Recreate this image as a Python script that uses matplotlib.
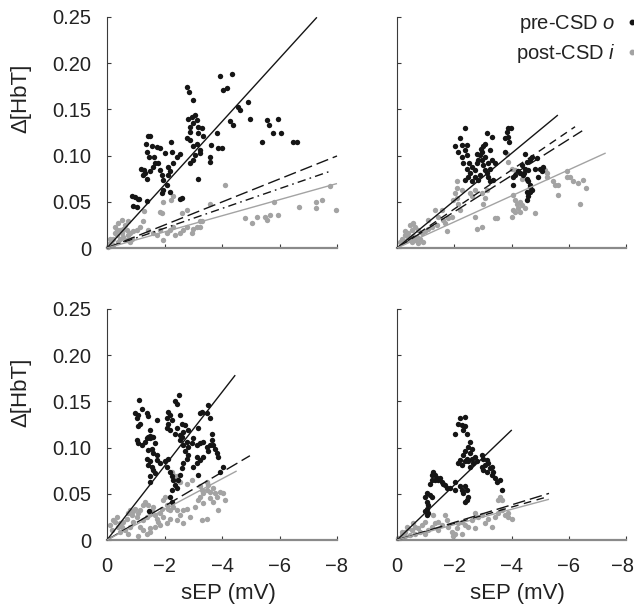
import matplotlib
matplotlib.use("Agg")
import matplotlib.pyplot as plt
from matplotlib.lines import Line2D
from matplotlib.transforms import ScaledTranslation

plt.rcParams['font.family'] = ['Liberation Sans', 'DejaVu Sans']
plt.rcParams['mathtext.fontset'] = 'custom'
plt.rcParams['mathtext.it'] = 'Liberation Sans:italic'
plt.rcParams['mathtext.rm'] = 'Liberation Sans'

# ---------------- data (sEP in mV, Δ[HbT]) ----------------
# top-left panel
tl_pre_x = [-0.86,-0.97,-0.89,-1.03,-1.12,-1.38,-1.09,-1.41,-1.50,-1.36,-1.55,-1.40,-1.47,-1.18,-1.29,-1.24,-1.33,-1.38,
            -1.50,-1.61,-1.67,-1.79,-1.84,-1.90,-1.96,-2.13,-2.19,-2.21,-2.25,-2.02,-1.84,-1.73,-1.63,-1.90,-1.96,-2.08,
            -2.13,-2.19,-2.31,-2.42,-2.54,-2.60,-2.54,-2.79,-2.86,-2.98,-2.94,-2.89,-2.83,-2.89,-3.06,-3.12,-3.00,-3.18,
            -2.77,-2.89,-3.00,-3.18,-3.12,-3.23,-3.29,-3.06,-2.89,-3.00,-3.18,-3.23,-3.35,-3.58,-3.58,-3.61,-3.81,-3.87,
            -3.93,-4.02,-4.16,-4.34,-4.28,-4.39,-4.57,-4.63,-4.92,-4.97,-5.38,-5.55,-5.65,-5.79,-5.96,-6.04,-6.48,-6.60,-3.99]
tl_pre_y = [0.056,0.055,0.045,0.044,0.053,0.051,0.053,0.121,0.121,0.113,0.110,0.104,0.099,0.085,0.084,0.079,0.081,0.075,
            0.083,0.088,0.092,0.092,0.084,0.079,0.074,0.088,0.083,0.115,0.104,0.103,0.108,0.109,0.099,0.059,0.063,0.068,
            0.079,0.061,0.092,0.099,0.102,0.054,0.053,0.174,0.169,0.160,0.142,0.131,0.140,0.126,0.144,0.139,0.135,0.131,
            0.119,0.117,0.110,0.124,0.113,0.106,0.130,0.101,0.092,0.095,0.075,0.103,0.121,0.099,0.093,0.112,0.124,0.108,
            0.186,0.171,0.173,0.188,0.137,0.133,0.153,0.149,0.158,0.140,0.115,0.138,0.133,0.124,0.140,0.125,0.115,0.115,0.108]
tl_post_x = [-0.05,-0.10,-0.16,-0.22,-0.28,-0.34,-0.28,-0.39,-0.45,-0.51,-0.57,-0.63,-0.68,-0.74,-0.80,-0.86,-0.92,-1.03,
             -1.15,-1.26,-0.22,-0.39,-0.45,-0.57,-0.68,-0.80,-0.10,-0.34,-0.51,-0.74,-1.29,-1.44,-1.61,-1.73,-1.84,-1.96,
             -2.08,-2.19,-2.31,-2.37,-2.54,-2.66,-2.77,-2.94,-3.00,-3.12,-3.23,-1.84,-1.90,-1.96,-2.21,-2.31,-2.60,-2.77,
             -3.23,-3.29,-3.58,-4.10,-4.80,-5.06,-5.21,-5.50,-5.55,-5.67,-5.96,-5.82,-6.68,-7.27,-7.27,-7.47,-7.76,-7.95]
tl_post_y = [0.001,0.005,0.009,0.010,0.016,0.019,0.023,0.027,0.019,0.016,0.021,0.025,0.019,0.014,0.016,0.010,0.018,0.019,
             0.023,0.029,0.003,0.007,0.010,0.012,0.009,0.007,0.010,0.014,0.030,0.029,0.040,0.019,0.016,0.014,0.019,0.009,
             0.016,0.019,0.023,0.014,0.016,0.019,0.023,0.016,0.021,0.023,0.029,0.039,0.038,0.050,0.052,0.056,0.038,0.041,
             0.023,0.029,0.048,0.068,0.032,0.027,0.034,0.034,0.030,0.036,0.036,0.050,0.044,0.050,0.043,0.052,0.067,0.041]

# top-right panel
tr_pre_x = [-2.37,-2.20,-2.26,-2.03,-2.14,-2.37,-2.43,-2.26,-2.43,-2.32,-2.43,-2.55,-2.37,-2.49,-2.61,-2.72,-2.78,-2.84,
            -2.90,-2.96,-3.02,-3.07,-3.13,-3.31,-2.96,-3.02,-3.07,-3.13,-3.19,-2.90,-2.84,-2.72,-3.07,-3.19,-3.25,-3.31,
            -2.78,-2.93,-2.63,-2.51,-3.25,-3.42,-3.36,-3.25,-3.77,-3.89,-3.98,-3.83,-3.89,-3.77,-3.91,-4.47,-4.53,-4.64,
            -4.70,-4.88,-4.35,-4.47,-4.59,-4.30,-4.41,-4.12,-4.24,-4.06,-4.53,-4.59,-4.64,-4.06,-4.82,-4.99,-5.11,-5.05,
            -4.91,-4.53,-4.64,-4.70,-4.59,-4.53,-4.64,-4.45]
tr_pre_y = [0.130,0.119,0.111,0.110,0.104,0.106,0.111,0.099,0.101,0.092,0.086,0.081,0.074,0.077,0.072,0.084,0.092,0.095,
            0.101,0.104,0.110,0.113,0.124,0.120,0.095,0.090,0.084,0.081,0.077,0.079,0.074,0.077,0.099,0.092,0.086,0.095,
            0.102,0.107,0.088,0.092,0.106,0.092,0.074,0.072,0.104,0.130,0.130,0.126,0.120,0.119,0.115,0.102,0.093,0.095,
            0.099,0.097,0.090,0.086,0.084,0.081,0.079,0.079,0.083,0.077,0.075,0.072,0.068,0.068,0.086,0.086,0.088,0.083,
            0.077,0.061,0.061,0.063,0.056,0.052,0.066,0.081]
tr_post_x = [-2.08,-2.03,-2.08,-1.97,-2.14,-2.20,-1.56,-1.33,-1.44,-1.62,-1.79,-1.68,-1.39,-1.21,-1.09,-0.98,-0.86,-0.75,
             -0.63,-0.51,-0.40,-0.28,-0.16,-0.10,-0.22,-0.34,-0.45,-0.57,-0.69,-0.80,-0.92,-0.75,-0.63,-0.51,-0.40,-0.28,
             -0.45,-0.57,-1.09,-1.73,-1.91,-2.72,-2.78,-2.98,-3.42,-2.96,-3.02,-3.07,-3.13,-2.72,-2.61,-2.55,-2.08,-2.26,
             -3.83,-3.89,-4.00,-4.12,-4.35,-4.53,-4.06,-4.12,-4.18,-4.30,-4.35,-4.24,-4.47,-4.06,-4.30,-4.12,-4.00,-4.82,
             -5.17,-5.23,-5.46,-5.52,-5.63,-5.63,-5.93,-5.93,-6.04,-6.16,-6.33,-6.51,-6.62,-6.39,-3.48,-5.23]
tr_post_y = [0.065,0.059,0.054,0.052,0.048,0.041,0.041,0.041,0.034,0.030,0.032,0.027,0.025,0.023,0.021,0.018,0.016,0.019,
             0.023,0.019,0.016,0.014,0.010,0.007,0.007,0.009,0.010,0.013,0.012,0.010,0.007,0.005,0.009,0.007,0.012,0.018,
             0.025,0.027,0.030,0.018,0.034,0.034,0.021,0.023,0.032,0.059,0.048,0.054,0.063,0.063,0.056,0.059,0.072,0.063,
             0.102,0.093,0.086,0.084,0.075,0.074,0.057,0.052,0.048,0.050,0.047,0.043,0.043,0.041,0.039,0.039,0.034,0.038,
             0.084,0.077,0.072,0.068,0.068,0.057,0.083,0.077,0.077,0.072,0.070,0.074,0.065,0.048,0.032,0.081]

# bottom-left panel
bl_pre_x = [-1.12,-1.21,-0.97,-1.03,-1.09,-1.38,-1.44,-1.15,-1.09,-1.50,-1.73,-2.13,-2.19,-2.08,-2.25,-2.13,-2.08,-2.19,
            -2.37,-2.42,-2.52,-2.54,-2.60,-2.71,-2.42,-2.37,-2.54,-2.66,-2.83,-3.23,-3.29,-3.52,-3.47,-3.58,-3.64,-3.18,
            -1.44,-1.38,-1.50,-1.55,-1.03,-1.09,-1.21,-1.32,-1.50,-1.61,-1.67,-1.55,-1.44,-1.61,-1.73,-1.38,-1.50,-1.44,
            -1.55,-1.61,-1.67,-1.50,-1.50,-1.73,-1.84,-2.02,-2.13,-2.08,-2.19,-2.25,-2.31,-2.37,-2.42,-2.25,-2.54,-2.60,
            -2.66,-2.77,-2.83,-2.94,-3.00,-2.71,-2.83,-2.77,-2.66,-2.60,-2.54,-2.48,-3.12,-3.23,-3.35,-3.47,-3.58,-3.64,
            -3.70,-3.76,-3.81,-3.87,-3.52,-3.35,-3.23,-3.12,-3.00,-4.05,-3.93,-3.18,-3.12,-1.47,-2.25,-2.19]
bl_pre_y = [0.152,0.142,0.137,0.132,0.135,0.137,0.134,0.126,0.123,0.119,0.130,0.139,0.135,0.132,0.130,0.126,0.121,0.119,
            0.150,0.147,0.157,0.135,0.126,0.124,0.121,0.115,0.114,0.117,0.119,0.137,0.139,0.146,0.137,0.132,0.115,0.121,
            0.112,0.110,0.113,0.111,0.108,0.105,0.103,0.106,0.110,0.112,0.105,0.099,0.097,0.094,0.092,0.088,0.085,0.081,
            0.079,0.076,0.072,0.069,0.063,0.087,0.083,0.085,0.088,0.079,0.074,0.069,0.065,0.060,0.056,0.054,0.108,0.112,
            0.103,0.106,0.101,0.105,0.110,0.096,0.092,0.088,0.083,0.078,0.070,0.065,0.103,0.105,0.106,0.101,0.103,0.108,
            0.103,0.099,0.094,0.090,0.096,0.090,0.087,0.083,0.079,0.079,0.074,0.070,0.090,0.031,0.041,0.047]
bl_post_x = [-0.10,-0.22,-0.28,-0.16,-0.34,-0.39,-0.45,-0.57,-0.68,-0.74,-0.80,-0.86,-0.92,-0.97,-1.03,-1.09,-1.15,-0.92,
             -0.80,-0.63,-0.45,-0.51,-0.74,-1.15,-1.26,-1.38,-1.50,-1.26,-1.32,-1.44,-1.55,-1.61,-1.67,-1.73,-1.79,-1.84,
             -1.90,-1.96,-2.02,-2.08,-2.13,-1.96,-1.84,-1.67,-1.50,-1.38,-1.09,-2.19,-2.31,-2.42,-2.54,-2.66,-2.77,-2.89,
             -2.66,-2.42,-2.19,-2.08,-2.25,-2.31,-2.42,-2.37,-2.54,-2.77,-2.94,-3.47,-3.23,-3.29,-3.35,-3.47,-3.52,-3.58,
             -3.70,-3.76,-3.81,-3.93,-4.05,-4.10,-3.23,-3.35,-3.18,-3.06,-3.58,-3.70,-3.29,-3.47,-3.87,-1.50,-1.26]
bl_post_y = [0.016,0.022,0.020,0.011,0.025,0.014,0.018,0.020,0.023,0.029,0.032,0.027,0.031,0.034,0.025,0.029,0.032,0.020,
             0.014,0.011,0.009,0.014,0.007,0.014,0.022,0.025,0.029,0.038,0.041,0.038,0.032,0.036,0.027,0.023,0.020,0.029,
             0.034,0.043,0.047,0.038,0.034,0.025,0.016,0.014,0.013,0.007,0.004,0.032,0.036,0.032,0.027,0.032,0.034,0.025,
             0.018,0.022,0.023,0.018,0.074,0.070,0.069,0.065,0.063,0.061,0.065,0.063,0.058,0.054,0.051,0.054,0.060,0.052,
             0.056,0.051,0.047,0.052,0.051,0.043,0.047,0.040,0.043,0.036,0.045,0.041,0.022,0.023,0.032,0.009,0.011]

# bottom-right panel
br_pre_x = [-2.20,-2.37,-2.14,-2.26,-2.37,-2.32,-2.03,-2.43,-2.55,-2.49,-2.61,-2.55,-2.37,-2.32,-2.43,-2.20,-2.14,-2.26,
            -2.37,-2.49,-2.61,-2.72,-2.67,-2.55,-2.78,-2.96,-3.02,-3.13,-3.19,-3.07,-2.96,-3.02,-3.13,-3.25,-3.31,-3.36,
            -3.31,-3.42,-3.48,-3.60,-3.66,-1.27,-1.21,-1.33,-1.39,-1.44,-1.50,-1.56,-1.62,-1.68,-1.73,-1.85,-1.33,-1.21,
            -1.15,-1.04,-0.98,-1.15,-1.21,-1.04,-1.09,-1.04,-0.98,-1.09,-1.04,-2.37,-2.43,-2.49,-2.43,-2.37,-2.32,-2.26,
            -2.20,-2.03,-2.03]
br_pre_y = [0.132,0.133,0.126,0.124,0.123,0.119,0.115,0.115,0.106,0.101,0.099,0.094,0.096,0.092,0.088,0.087,0.083,0.081,
            0.085,0.085,0.088,0.090,0.083,0.079,0.085,0.092,0.088,0.087,0.083,0.081,0.079,0.076,0.074,0.078,0.079,0.074,
            0.070,0.067,0.063,0.065,0.054,0.074,0.070,0.070,0.067,0.065,0.067,0.063,0.061,0.060,0.056,0.056,0.065,0.065,
            0.061,0.051,0.047,0.049,0.047,0.041,0.038,0.034,0.031,0.029,0.027,0.058,0.054,0.047,0.043,0.041,0.051,0.054,
            0.058,0.054,0.063]
br_post_x = [-0.05,-0.16,-0.28,-0.40,-0.51,-0.63,-0.75,-0.86,-0.28,-0.45,-0.63,-0.80,-0.98,-1.09,-1.21,-1.33,-1.44,-1.56,
             -1.68,-1.73,-1.79,-1.91,-1.97,-2.03,-2.08,-2.14,-2.26,-2.37,-2.49,-2.61,-2.72,-2.84,-2.96,-3.07,-3.19,-3.31,
             -3.42,-3.54,-3.66,-3.77,-3.89,-4.00,-3.54,-3.60,-3.66,-3.89,-0.16,-0.34,-0.57,-0.98,-1.27,-1.44,-2.26,-2.72]
br_post_y = [0.002,0.005,0.009,0.013,0.011,0.014,0.013,0.016,0.004,0.005,0.007,0.009,0.007,0.011,0.014,0.018,0.020,0.016,
             0.027,0.022,0.014,0.009,0.004,0.007,0.013,0.018,0.020,0.016,0.014,0.022,0.029,0.025,0.027,0.018,0.023,0.014,
             0.025,0.029,0.032,0.027,0.025,0.023,0.043,0.047,0.043,0.029,0.009,0.014,0.018,0.020,0.027,0.011,0.007,0.013]

# fitted lines through the origin: slope (Δ[HbT] per mV) and extent (mV)
tl_slopes = [-0.0342, -0.01245, -0.0107, -0.00872]
tl_ends = [-7.3, -8.0, -7.76, -8.0]
tr_slopes = [-0.0256, -0.0211, -0.0196, -0.0141]
tr_ends = [-5.62, -6.22, -6.47, -7.29]
bl_slopes = [-0.040, -0.01835, -0.01656]
bl_ends = [-4.46, -4.97, -4.51]
br_slopes = [-0.0297, -0.0095, -0.0089, -0.0083]
br_ends = [-4.01, -5.31, -5.31, -5.31]

x_ticks = [0, -2, -4, -6, -8]
x_ticklabels = ['0', '\u22122', '\u22124', '\u22126', '\u22128']
y_ticks = [0, 0.05, 0.10, 0.15, 0.20, 0.25]
y_ticklabels = ['0', '0.05', '0.10', '0.15', '0.20', '0.25']

BLACK = '#151515'
GRAY = '#a3a3a3'
TEXT = '#222222'
LONG = (0, (9, 3.5))
SHORT = (0, (5.5, 4))
DASHDOT = (0, (6, 3, 1.2, 3))

# ---------------- figure ----------------
fig = plt.figure(figsize=(6.34, 6.06), dpi=100)
W, H = 634, 606

def add_ax(x0, x1, ytop, ybot):
    return fig.add_axes([x0 / W, 1 - ybot / H, (x1 - x0) / W, (ybot - ytop) / H])

ax_tl = add_ax(107, 337, 17, 248)
ax_tr = add_ax(397, 626, 17, 248)
ax_bl = add_ax(107, 337, 309, 540)
ax_br = add_ax(397, 626, 309, 540)

panels = [
    (ax_tl, tl_pre_x, tl_pre_y, tl_post_x, tl_post_y, tl_slopes, tl_ends,
     [(BLACK, '-'), (BLACK, LONG), (BLACK, DASHDOT), (GRAY, '-')]),
    (ax_tr, tr_pre_x, tr_pre_y, tr_post_x, tr_post_y, tr_slopes, tr_ends,
     [(BLACK, '-'), (BLACK, SHORT), (BLACK, LONG), (GRAY, '-')]),
    (ax_bl, bl_pre_x, bl_pre_y, bl_post_x, bl_post_y, bl_slopes, bl_ends,
     [(BLACK, '-'), (BLACK, LONG), (GRAY, '-')]),
    (ax_br, br_pre_x, br_pre_y, br_post_x, br_post_y, br_slopes, br_ends,
     [(BLACK, '-'), (BLACK, LONG), (BLACK, SHORT), (GRAY, '-')]),
]

for i, (ax, px, py, qx, qy, slopes, ends, styles) in enumerate(panels):
    ax.scatter(qx, qy, s=15, color=GRAY, linewidths=0, zorder=2, clip_on=False)
    ax.scatter(px, py, s=15, color=BLACK, linewidths=0, zorder=3, clip_on=False)
    for s, e, (c, ls) in zip(slopes, ends, styles):
        ax.plot([0, e], [0, s * e], color=c, linestyle=ls, linewidth=1.0, zorder=4,
                solid_capstyle='butt', dash_capstyle='butt', clip_on=False)
    ax.set_xlim(0, -8)
    ax.set_ylim(0, 0.25)
    ax.set_xticks(x_ticks)
    ax.set_yticks(y_ticks)
    for sp in ['top', 'right']:
        ax.spines[sp].set_visible(False)
    ax.spines['left'].set_color('#3a3a3a')
    ax.spines['left'].set_linewidth(0.8)
    ax.spines['bottom'].set_color('#8a8a8a')
    ax.spines['bottom'].set_linewidth(1.6)
    ax.tick_params(direction='in', length=3, width=0.8, colors='#3a3a3a', labelcolor=TEXT,
                   labelsize=14.5)
    ax.tick_params(axis='x', pad=12)
    ax.tick_params(axis='y', pad=11.5)
    left = i in (0, 2)
    bottom = i in (2, 3)
    if left:
        ax.set_yticklabels(y_ticklabels)
        ax.set_ylabel('\u0394[HbT]', fontsize=16, color=TEXT)
        ax.yaxis.set_label_coords(-0.33, 0.65 if i == 0 else 0.64)
    else:
        ax.set_yticklabels([])
    if bottom:
        ax.set_xticklabels(x_ticklabels)
        ax.set_xlabel('sEP (mV)', fontsize=16, color=TEXT)
        ax.xaxis.set_label_coords(0.53 if i == 2 else 0.524, -0.186)
    else:
        ax.set_xticklabels([])

# keep the last tick label of the bottom-right panel inside the figure
last = ax_br.get_xticklabels()[-1]
last.set_transform(last.get_transform() + ScaledTranslation(-4 / 100, 0, fig.dpi_scale_trans))

handles = [Line2D([], [], linestyle='none', marker='o', markersize=3.2, color=BLACK),
           Line2D([], [], linestyle='none', marker='o', markersize=3.2, color=GRAY)]
labels = ['pre-CSD $\\mathit{o}$', 'post-CSD $\\mathit{i}$']
fig.legend(handles, labels, loc='upper right', bbox_to_anchor=(638 / W, 1 - 13 / H), frameon=False,
           markerfirst=False, handlelength=0.6, handletextpad=0.52, labelspacing=0.34,
           fontsize=14.5, borderaxespad=0, borderpad=0, labelcolor=TEXT)

fig.savefig('out.png', dpi=100)
